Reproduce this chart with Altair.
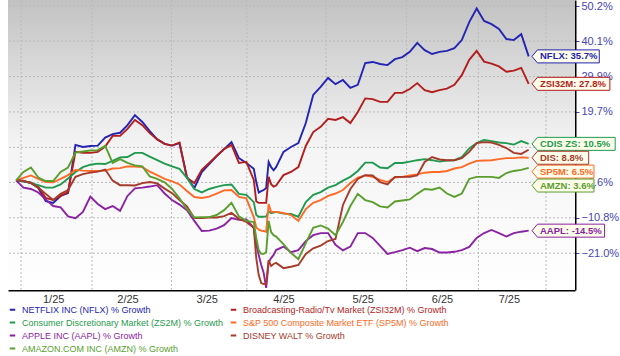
import json
import altair as alt
import pandas as pd

# ---------------- data ----------------
names = [
    "NETFLIX INC (NFLX) % Growth",
    "Broadcasting-Radio/Tv Market (ZSI32M) % Growth",
    "Consumer Discretionary Market (ZS2M) % Growth",
    "S&P 500 Composite Market ETF (SP5M) % Growth",
    "APPLE INC (AAPL) % Growth",
    "DISNEY WALT % Growth",
    "AMAZON.COM INC (AMZN) % Growth",
]
short_names = ["NFLX", "ZSI32M", "CDIS ZS", "SP5M", "AAPL", "DIS", "AMZN"]
colors = ["#2424b2", "#b31d1d", "#1f9a4e", "#ff6a26", "#8b22a3", "#a63b2b", "#5a9f2e"]

nflx = [0.0, -0.3, -0.7, -2.2, -6.0, -6.5, -4.5, -3.7, 10.2, 9.6, 9.9, 10.0, 12.3, 13.3, 13.7, 15.9,
        18.8, 16.8, 14.2, 11.8, 10.5, 10.0, 10.7, 1.0, -2.2, 2.4, 4.7, 7.0, 9.0, 11.0, 6.4, 5.0,
        3.3, -0.5, -3.5, -3.1, -2.8, -2.2, 5.3, 3.8, 2.9, 3.8,
        8.2, 9.6, 10.7, 16.5, 24.6, 26.9, 29.5, 27.7, 28.9, 26.6, 27.5, 33.8, 34.1, 33.5, 33.2, 34.9,
        35.5, 37.0, 39.6, 37.5, 36.4, 37.0, 37.3, 38.1, 40.4, 45.6, 49.5, 45.9, 45.0, 43.6, 40.7, 40.4,
        42.1, 35.7]
zsi32m = [0.0, -0.3, -0.7, -1.9, -5.1, -5.7, -4.5, -3.4, 8.2, 7.9, 7.9, 8.2, 9.7, 12.8, 12.8, 14.8,
          17.4, 15.9, 13.6, 11.8, 10.5, 10.0, 10.9, 0.7, -0.8, 3.0, 5.0, 7.0, 9.0, 10.2, 5.0, 5.3,
          0.1, -6.1, -6.5, -6.5, -6.5, -6.5, 1.0, -1.1, -1.8, -1.5,
          1.5, 2.4, 3.8, 9.9, 13.9, 15.4, 17.7, 17.4, 18.2, 16.5, 19.7, 23.6, 23.4, 22.6, 22.6, 25.2,
          25.2, 26.3, 28.0, 26.0, 25.4, 26.0, 26.4, 27.5, 30.3, 34.7, 37.3, 34.2, 33.6, 32.8, 31.3, 31.6,
          32.4, 27.8]
zs2m = [0.0, -0.2, -0.8, -1.4, -2.1, -2.1, -1.2, 0.5, 2.4, 3.8, 4.5, 4.8, 4.7, 5.6, 6.6, 6.7,
        7.9, 7.9, 6.8, 5.8, 4.8, 4.0, 3.3, 0.7, -2.5, -3.5, -2.5, -1.9, -1.4, -1.2, -3.9, -4.2,
        -6.3, -10.0, -10.5, -10.5, -10.5, -10.4, -9.0, -9.5, -9.3, -9.1,
        -9.6, -9.7, -10.5, -6.3, -4.2, -3.4, -2.1, -1.4, -0.1, 1.0, 2.7, 5.1, 5.1, 3.7, 3.5, 5.0,
        5.0, 5.4, 5.8, 6.1, 5.8, 5.4, 5.7, 5.8, 6.7, 9.2, 10.7, 11.6, 11.3, 10.9, 10.7, 10.3,
        11.3, 10.5]
sp5m = [0.0, 0.7, 1.4, 0.4, -0.5, -0.6, 0.4, 1.5, 3.0, 2.8, 2.7, 2.7, 2.8, 3.4, 3.5, 4.0,
        4.0, 3.8, 2.5, 1.5, 0.4, -0.3, -1.2, -3.1, -4.8, -5.1, -4.7, -3.8, -2.9, -2.8, -4.8, -5.2,
        -10.6, -13.6, -14.2, -14.5, -14.6, -14.8, -6.8, -9.1, -9.1, -9.1,
        -9.4, -10.0, -11.7, -8.3, -6.5, -5.7, -4.5, -3.8, -2.8, -0.8, 0.8, 1.4, 1.0, 0.1, -0.5, 0.8,
        1.0, 1.4, 1.7, 2.2, 2.4, 2.4, 2.7, 3.4, 3.8, 4.8, 5.6, 5.7, 5.8, 6.1, 6.4, 6.4,
        6.6, 6.5]
aapl = [0.0, -2.1, -2.5, -3.5, -5.5, -7.4, -7.8, -10.4, -10.9, -9.1, -4.7, -6.8, -8.3, -7.4, -8.8, -4.5,
        -2.3, -2.1, -1.8, -1.4, -3.8, -5.7, -7.0, -8.6, -11.7, -14.6, -14.5, -13.9, -12.9, -10.9, -11.4, -11.3,
        -13.7, -18.6, -21.5, -24.4, -26.7, -31.0, -23.6, -22.4, -21.5, -20.1,
        -19.1, -20.7, -20.1, -17.5, -15.8, -15.2, -15.2, -18.6, -20.2, -19.1, -15.2, -15.2, -16.6, -18.9, -21.2, -20.7,
        -20.1, -19.4, -20.4, -19.5, -19.8, -20.8, -20.8, -20.6, -20.1, -19.2, -16.6, -15.2, -14.3, -15.2, -16.2, -15.2,
        -14.8, -14.5]
dis = [0.0, -0.1, -0.8, -2.1, -3.9, -5.7, -3.9, -2.8, 1.0, 1.8, 2.2, 2.5, 3.1, -0.1, -1.4, -1.4,
       -1.5, -0.8, -0.5, -0.9, -2.4, -3.7, -5.7, -7.5, -10.9, -10.9, -10.7, -10.7, -10.3, -9.4, -11.1, -12.0,
       -13.7, -22.4, -27.3, -29.6, -29.9, -29.9, -23.0, -24.7, -24.1, -23.8,
       -25.3, -24.9, -24.4, -21.2, -19.6, -18.8, -17.5, -16.9, -7.1, -2.5, 0.4, 1.5, 1.4, -0.5, -1.2, 1.0,
       1.0, 1.0, 1.4, 5.3, 6.7, 6.0, 5.8, 5.8, 6.4, 8.2, 10.7, 11.0, 10.9, 10.2, 9.3, 7.9,
       7.6, 8.8]
amzn = [0.0, 2.4, 3.7, 0.8, -0.2, -0.2, 2.4, 3.7, 8.0, 8.3, 8.6, 8.7, 9.9, 5.0, 6.1, 5.0,
        4.3, 4.0, 1.1, 0.4, -0.6, -2.5, -5.2, -8.3, -10.7, -10.6, -10.6, -10.0, -8.6, -6.5, -10.4, -11.7,
        -12.0, -16.6, -20.1, -21.2, -21.2, -20.7, -11.7, -14.9, -15.8, -16.2,
        -18.4, -20.9, -22.7, -18.1, -13.7, -13.0, -13.9, -15.8, -12.0, -7.4, -3.9, -5.7, -6.3, -7.5, -7.8, -6.1,
        -5.8, -5.5, -3.9, -2.5, -2.7, -2.1, -3.8, -4.8, -3.8, 0.4, 1.0, 1.0, 1.0, 0.7, 2.1, 2.7,
        3.0, 3.6]
series_values = [nflx, zsi32m, zs2m, sp5m, aapl, dis, amzn]

# dates: 3-day sampling plus daily points around the April sell-off
dates = sorted(set(pd.date_range("2024-12-30", periods=70, freq="3D"))
               | set(pd.date_range("2025-04-05", "2025-04-14", freq="D")))
date_str = [d.strftime("%Y-%m-%dT%H:%M:%S") for d in dates]

y_ticks = [50.2, 40.1, 29.9, 19.7, 9.5, -0.6, -10.8, -21.0]
hidden_tick = 9.5  # fully covered by a value callout in the original
month_label_dates = ["2025-01-14", "2025-02-13", "2025-03-17", "2025-04-17",
                     "2025-05-19", "2025-06-20", "2025-07-17"]
grid_dates = ["2025-01-01T00:00:00", "2025-01-29T16:00:00", "2025-03-02T19:00:00",
              "2025-04-02T05:00:00", "2025-05-04T05:00:00", "2025-06-05T17:00:00",
              "2025-07-04T17:00:00", "2025-08-01T00:00:00"]
x_domain = ["2024-12-26T18:00:00", "2025-08-12T17:00:00"]
y_domain = [-31.6, 51.95]
label_date = "2025-07-26T08:00:00"

# ---------------- build tables ----------------
rows = []
for n, vals in zip(names, series_values):
    for d, v in zip(date_str, vals):
        rows.append({"date": d, "value": v, "series": n})
df = pd.DataFrame(rows)

finals = [vals[-1] for vals in series_values]
order = sorted(range(len(names)), key=lambda i: -finals[i])
label_y = [0.0] * len(names)
prev = None
for i in order:
    y = finals[i] if prev is None else min(finals[i], prev - 4.0)
    label_y[i] = y
    prev = y
texts = [f"{s}: {f:.1f}%" for s, f in zip(short_names, finals)]


def box_path(txt):
    w = (5.3 * len(txt) + 9) / 10.0
    return f"M0,0L0.55,-0.65L{w:.2f},-0.65L{w:.2f},0.65L0.55,0.65Z"


lab_df = pd.DataFrame({
    "series": names,
    "text": texts,
    "ly": label_y,
    "date": [label_date] * len(names),
    "shape": [box_path(t) for t in texts],
})


def dt(s):
    y, m, d = [int(p) for p in s.split("-")]
    return alt.DateTime(year=y, month=m, date=d)


def dth(s):
    day, t = s.split("T")
    y, m, d = [int(p) for p in day.split("-")]
    h = int(t.split(":")[0])
    return alt.DateTime(year=y, month=m, date=d, hours=h)


xscale = alt.Scale(domain=[dth(x_domain[0]), dth(x_domain[1])])
yscale = alt.Scale(domain=y_domain, nice=False, zero=False)
cscale = alt.Scale(domain=names, range=colors)

FONT = "Liberation Sans"
GRID = "#bababa"
label_color_expr = f"{json.dumps(colors)}[indexof({json.dumps(names)}, datum.value)]"

x_axis = alt.Axis(values=[dt(s) for s in month_label_dates], format="%-m/%y", title=None,
                  grid=False, ticks=False, domainColor="#000000", domainWidth=2,
                  labelColor="#333333", labelFontSize=11, labelFont=FONT, labelPadding=3)
y_axis = alt.Axis(orient="right", values=y_ticks,
                  labelExpr=f"datum.value == {hidden_tick} ? '' : format(datum.value, '.1f') + '%'",
                  grid=False, title=None, domainColor="#000000", domainWidth=2,
                  tickColor="#4646b4", labelColor="#4646b4", tickSize=4,
                  labelFontSize=11, labelFont=FONT, labelPadding=2)

bg_df = pd.DataFrame({"x0": [x_domain[0]], "x1": [x_domain[1]],
                      "y0": [y_domain[1]], "y1": [y_domain[0]]})
bg = alt.Chart(bg_df).mark_rect(
    fill=alt.LinearGradient(
        gradient="linear",
        stops=[alt.GradientStop(color="#c2c2c2", offset=0),
               alt.GradientStop(color="#f4f4f4", offset=0.5),
               alt.GradientStop(color="#ffffff", offset=1)],
        x1=0, x2=0, y1=0, y2=1),
).encode(
    x=alt.X("x0:T", scale=xscale, axis=x_axis), x2=alt.X2("x1"),
    y=alt.Y("y0:Q", scale=yscale, axis=y_axis), y2=alt.Y2("y1"),
)

hgrid = alt.Chart(pd.DataFrame({"v": y_ticks})).mark_rule(
    color=GRID, strokeDash=[2, 2], strokeWidth=1
).encode(y=alt.Y("v:Q", scale=yscale, axis=y_axis))

vgrid = alt.Chart(pd.DataFrame({"d": grid_dates})).mark_rule(
    color=GRID, strokeDash=[2, 2], strokeWidth=1
).encode(x=alt.X("d:T", scale=xscale, axis=x_axis))

lines = alt.Chart(df).mark_line(strokeWidth=1.9).encode(
    x=alt.X("date:T", scale=xscale, axis=x_axis),
    y=alt.Y("value:Q", scale=yscale, axis=y_axis),
    color=alt.Color("series:N", scale=cscale,
                    legend=alt.Legend(title=None, orient="none", legendX=0, legendY=305,
                                      columns=2, direction="horizontal",
                                      symbolType="stroke", symbolStrokeWidth=2, symbolSize=30,
                                      labelFontSize=9, labelFont=FONT, labelLimit=400,
                                      labelColor={"expr": label_color_expr},
                                      rowPadding=3, columnPadding=2, labelOffset=5)),
)

boxes = alt.Chart(lab_df).mark_point(filled=True, opacity=1, strokeWidth=1, size=400).encode(
    x=alt.X("date:T", scale=xscale, axis=x_axis),
    y=alt.Y("ly:Q", scale=yscale, axis=y_axis),
    shape=alt.Shape("shape:N", scale=None),
    fill=alt.value("#fdfdea"),
    stroke=alt.Stroke("series:N", scale=cscale, legend=None),
)

texts_layer = alt.Chart(lab_df).mark_text(
    align="left", baseline="middle", dx=8, fontSize=9.5, fontWeight="bold", font=FONT
).encode(
    x=alt.X("date:T", scale=xscale, axis=x_axis),
    y=alt.Y("ly:Q", scale=yscale, axis=y_axis),
    text="text:N",
    color=alt.Color("series:N", scale=cscale, legend=None),
)

chart = alt.layer(bg, hgrid, vgrid, lines, boxes, texts_layer).properties(
    width=567, height=290,
    padding={"left": 8, "top": 0, "right": 45, "bottom": 66},
    autosize=alt.AutoSizeParams(type="none"),
).configure_view(stroke=None)

chart.save("out.html", embed_options={"renderer": "svg", "actions": False})
